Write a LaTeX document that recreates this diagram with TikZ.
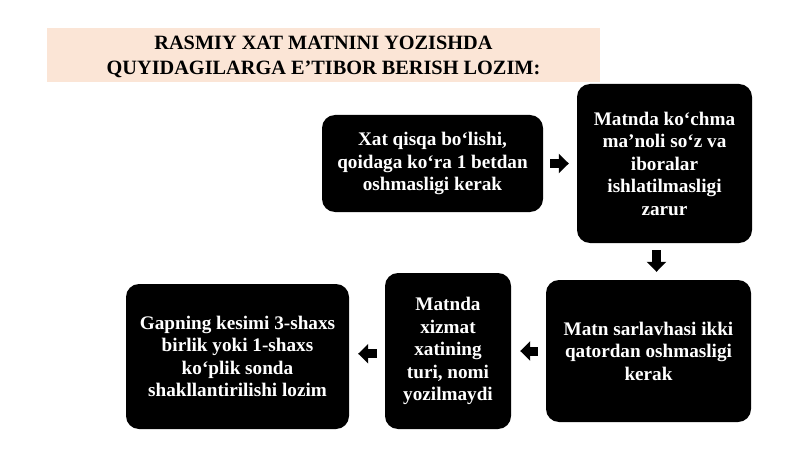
\documentclass[tikz,border=0pt]{standalone}
\usepackage{fontspec}
\setmainfont{Liberation Serif}
\usepackage{tikz}
\usetikzlibrary{arrows.meta, calc}

\definecolor{titlebg}{RGB}{251,229,214}

\begin{document}
\begin{tikzpicture}[x=1pt, y=-1pt,
  box/.style={fill=black, rounded corners=13pt, text=white, align=center, inner sep=0pt,
              font=\fontsize{19.2}{22.5}\selectfont\bfseries},
  conn/.style={line width=9pt, -{Triangle[length=10pt, width=19pt]}, shorten <=7pt, shorten >=8pt}]

% draw background
\useasboundingbox[fill=white] (0, 0) rectangle (800, 449);

% draw title band
\fill[color=titlebg] (47, 28) rectangle (600, 82);
\node[align=center, font=\fontsize{20.3}{25}\selectfont\bfseries] (title) at (323.5, 57)
  {RASMIY XAT MATNINI YOZISHDA\\QUYIDAGILARGA E’TIBOR BERISH LOZIM:};

% draw boxes
\node[box, minimum width=221pt, minimum height=97pt] (qisqa) at (432.5, 163.5)
  {Xat qisqa bo‘lishi,\\qoidaga ko‘ra 1 betdan\\oshmasligi kerak};
\node[box, minimum width=175pt, minimum height=159pt] (kochma) at (664.5, 163.5)
  {Matnda ko‘chma\\ma’noli so‘z va\\iboralar\\ishlatilmasligi\\zarur};
\node[box, minimum width=205pt, minimum height=142pt] (sarlavha) at (648.5, 351)
  {Matn sarlavhasi ikki\\qatordan oshmasligi\\kerak};
\node[box, minimum width=126pt, minimum height=156pt] (xizmat) at (448, 351)
  {Matnda\\xizmat\\xatining\\turi, nomi\\yozilmaydi};
\node[box, minimum width=223pt, minimum height=145pt] (kesim) at (237.5, 356.5)
  {Gapning kesimi 3-shaxs\\birlik yoki 1-shaxs\\ko‘plik sonda\\shakllantirilishi lozim};

% draw arrows
\draw[conn] (qisqa) -- (kochma);

\coordinate (m23) at ($(kochma.south)!0.5!(sarlavha.north)$);
\draw[conn] (m23 |- kochma.south) -- (m23 |- sarlavha.north);

\draw[conn, shorten <=8pt, shorten >=9pt] (sarlavha) -- (xizmat);

\coordinate (m45) at ($(xizmat.west)!0.5!(kesim.east)$);
\draw[conn, shorten <=8pt, shorten >=9pt] (m45 -| xizmat.west) -- (m45 -| kesim.east);

\end{tikzpicture}
\end{document}
